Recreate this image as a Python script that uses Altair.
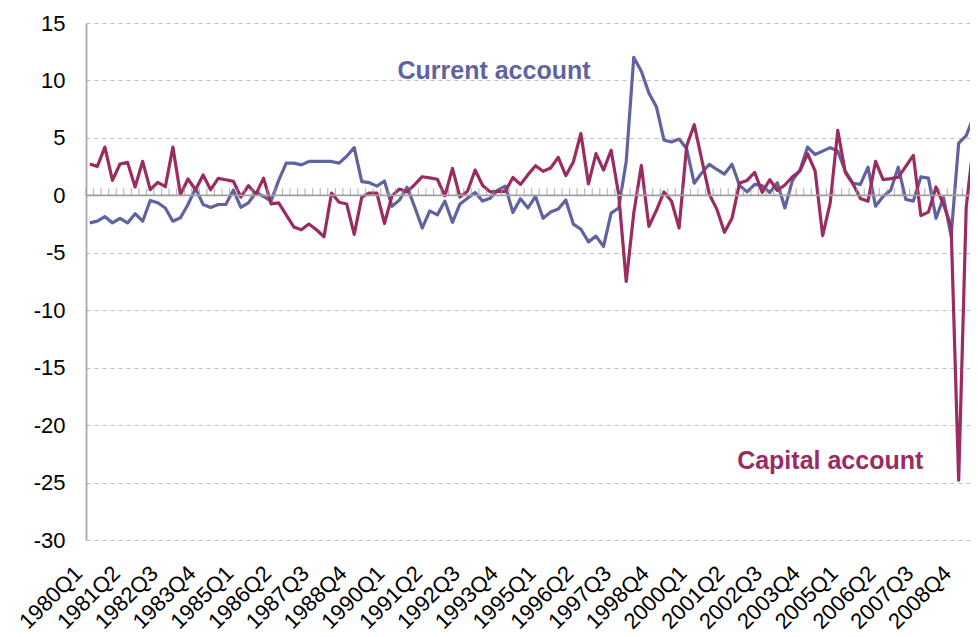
import altair as alt
import pandas as pd

# Quarterly categories, 1980Q1 .. 2009Q2
quarters = [f"{y}Q{q}" for y in range(1980, 2010) for q in range(1, 5)][:118]

current_account = [
    -2.4, -2.25, -1.85, -2.4, -2.0, -2.4, -1.6, -2.25, -0.45, -0.65,
    -1.1, -2.25, -1.95, -0.8, 0.6, -0.8, -1.05, -0.8, -0.8, 0.45,
    -1.05, -0.65, 0.25, -0.1, -0.5, 1.3, 2.8, 2.8, 2.65, 2.95,
    2.95, 2.95, 2.95, 2.8, 3.4, 4.15, 1.2, 1.1, 0.8, 1.25,
    -0.95, -0.4, 0.7, -1.0, -2.85, -1.35, -1.7, -0.5, -2.35, -0.75,
    -0.25, 0.25, -0.5, -0.25, 0.45, 0.8, -1.5, -0.3, -1.1, -0.1,
    -2.0, -1.45, -1.2, -0.4, -2.5, -2.95, -4.05, -3.55, -4.45, -1.55,
    -1.1, 2.95, 12.0, 10.8, 8.9, 7.7, 4.8, 4.65, 4.9, 4.05,
    1.05, 1.95, 2.7, 2.25, 1.85, 2.7, 0.85, 0.3, 0.95, 0.85,
    0.25, 1.1, -1.1, 1.3, 2.2, 4.2, 3.55, 3.85, 4.15, 3.85,
    2.1, 1.05, 0.95, 2.45, -0.95, -0.1, 0.45, 2.45, -0.35, -0.5,
    1.6, 1.5, -2.0, -0.2, -3.55, 4.55, 5.2, 6.9,
]

capital_account = [
    2.73, 2.52, 4.2, 1.3, 2.73, 2.87, 0.73, 2.96, 0.49, 1.13,
    0.75, 4.2, 0.06, 1.42, 0.49, 1.77, 0.49, 1.48, 1.36, 1.22,
    -0.15, 0.84, 0.1, 1.5, -0.75, -0.65, -1.7, -2.75, -3.0, -2.5,
    -3.0, -3.6, 0.2, -0.6, -0.75, -3.4, -0.15, 0.2, 0.2, -2.45,
    -0.05, 0.55, 0.3, 0.93, 1.62, 1.52, 1.4, -0.05, 2.35, -0.15,
    0.35, 2.2, 0.85, 0.3, 0.35, 0.35, 1.55, 0.95, 1.8, 2.58,
    2.09, 2.38, 3.3, 1.71, 2.9, 5.38, 1.0, 3.63, 2.2, 3.92,
    0.1, -7.5, -1.54, 2.6, -2.7, -1.3, 0.3, -0.52, -2.84, 4.3,
    6.15, 3.1, 0.1, -1.22, -3.22, -2.0, 1.07, 1.3, 2.0, 0.26,
    1.36, 0.42, 0.9, 1.62, 2.12, 3.62, 2.12, -3.51, -0.65, 5.65,
    1.97, 1.0, -0.28, -0.52, 2.96, 1.36, 1.45, 1.57, 2.52, 3.48,
    -1.77, -1.46, 0.73, -0.8, -2.7, -24.8, -1.0, 4.7,
]

y_ticks = [15, 10, 5, 0, -5, -10, -15, -20, -25, -30]
label_every = 5

series_labels = ["Current account", "Capital account"]
label_idx = [53.5, 98.0]
label_val = [10.16, -23.8]

BLUE = "#6063A0"
RED = "#9B2C62"
FONT = "Liberation Sans"

n = len(quarters)
y_min, y_max = min(y_ticks), max(y_ticks)

df = pd.DataFrame({
    "idx": list(range(n)),
    "quarter": quarters,
    "current": current_account,
    "capital": capital_account,
})
bounds = pd.DataFrame({"b": [k - 0.5 for k in range(n)], "zero": [0] * n})
xlab = pd.DataFrame({
    "idx": list(range(0, n, label_every)),
    "quarter": quarters[::label_every],
})
xlab["bottom"] = y_min
zero_df = pd.DataFrame({"zero": [0]})
cur_lab = pd.DataFrame({"idx": [label_idx[0]], "val": [label_val[0]], "text": [series_labels[0]]})
cap_lab = pd.DataFrame({"idx": [label_idx[1]], "val": [label_val[1]], "text": [series_labels[1]]})

x_scale = alt.Scale(domain=[-0.5, 116.5], nice=False, zero=False)
y_scale = alt.Scale(domain=[y_min, y_max], nice=False, zero=False)

y_axis = alt.Axis(
    values=y_ticks,
    labelExpr="'' + datum.value",
    grid=True,
    gridDash=[4, 4],
    gridColor="#bdbdbd",
    gridWidth=1,
    domain=True,
    domainColor="#a8a8a8",
    domainWidth=1.8,
    ticks=False,
    labelPadding=21,
    labelFont=FONT,
    labelFontSize=22,
    labelColor="#000000",
    labelOverlap=False,
    title=None,
)

base = alt.Chart(df)

line_current = base.mark_line(color=BLUE, strokeWidth=3.2, strokeJoin="round", clip=True).encode(
    x=alt.X("idx:Q", scale=x_scale, axis=None),
    y=alt.Y("current:Q", scale=y_scale, axis=y_axis),
)
line_capital = base.mark_line(color=RED, strokeWidth=3.2, strokeJoin="round", clip=True).encode(
    x=alt.X("idx:Q"),
    y=alt.Y("capital:Q"),
)

zero_line = alt.Chart(zero_df).mark_rule(color="#a0a0a0", strokeWidth=1.6).encode(
    y=alt.Y("zero:Q")
)
ticks = alt.Chart(bounds).mark_tick(
    orient="vertical", size=7, thickness=1.2, color="#9a9a9a", yOffset=-3.5
).encode(x=alt.X("b:Q"), y=alt.Y("zero:Q"))

x_labels = alt.Chart(xlab).mark_text(
    font=FONT, fontSize=22, color="#000000", angle=315,
    align="right", baseline="middle", xOffset=-11, yOffset=30,
).encode(x=alt.X("idx:Q"), y=alt.Y("bottom:Q"), text=alt.Text("quarter:N"))

text_current = alt.Chart(cur_lab).mark_text(
    font=FONT, fontSize=25, fontWeight="bold", color=BLUE,
    align="center", baseline="alphabetic",
).encode(x=alt.X("idx:Q"), y=alt.Y("val:Q"), text=alt.Text("text:N"))
text_capital = alt.Chart(cap_lab).mark_text(
    font=FONT, fontSize=25, fontWeight="bold", color=RED,
    align="center", baseline="alphabetic",
).encode(x=alt.X("idx:Q"), y=alt.Y("val:Q"), text=alt.Text("text:N"))

chart = alt.layer(
    line_current, line_capital, zero_line, ticks, x_labels, text_current, text_capital
).properties(
    width=884,
    height=517,
    background="white",
    autosize=alt.AutoSizeParams(type="none"),
    padding={"left": 78, "top": 15, "right": 0, "bottom": 97},
).configure_view(
    stroke="transparent"
)

chart.save("out.html", embed_options={"renderer": "svg", "actions": False})
